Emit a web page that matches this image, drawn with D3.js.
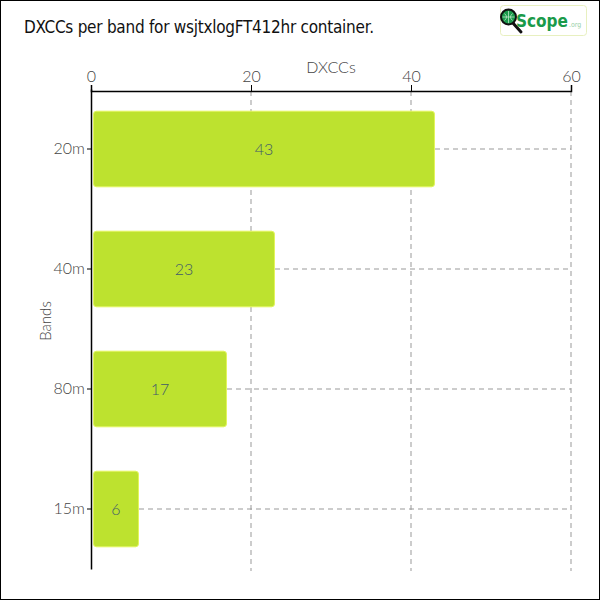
<!DOCTYPE html>
<html>
<head>
<meta charset="utf-8">
<script src="https://d3js.org/d3.v7.min.js"></script>
<style>
	body { margin: 0; background: #fff; }
	svg { display: block; font-family: Lato, "Open Sans", sans-serif; }
	.tick text { font-family: Lato, sans-serif; font-size: 16px; font-weight: 300; fill: #444; }
	.grid line { stroke: #999; stroke-dasharray: 5,4; }
</style>
</head>
<body>
<div id="chart"></div>
<script>
var bands = ["20m", "40m", "80m", "15m"];
var dxccs = [43, 23, 17, 6];
var xTicks = [0, 20, 40, 60];

var W = 600, H = 600;
var margin = { left: 91, top: 91, right: 29, bottom: 29 };
var w = W - margin.left - margin.right;
var h = H - margin.top - margin.bottom;

var svg = d3.select("#chart").append("svg")
	.attr("width", W)
	.attr("height", H);

svg.append("rect")
	.attr("x", 0.5).attr("y", 0.5)
	.attr("width", W - 1).attr("height", H - 1)
	.attr("fill", "#fff").attr("stroke", "#000");

// title
svg.append("text")
	.attr("x", 24).attr("y", 33)
	.attr("font-family", "'DejaVu Sans Condensed', sans-serif")
	.attr("font-size", 17)
	.attr("fill", "#111")
	.attr("textLength", 350)
	.text("DXCCs per band for wsjtxlogFT412hr container.");

// logo
var logo = svg.append("g").attr("transform", "translate(500,5)");
logo.append("rect")
	.attr("x", 0.5).attr("y", 0.5).attr("width", 86).attr("height", 30).attr("rx", 3)
	.attr("fill", "#fff").attr("stroke", "#e8f0c0");
logo.append("line")
	.attr("x1", 12).attr("y1", 17).attr("x2", 21).attr("y2", 27)
	.attr("stroke", "#111").attr("stroke-width", 3).attr("stroke-linecap", "round");
logo.append("circle")
	.attr("cx", 8.5).attr("cy", 12).attr("r", 7.5)
	.attr("fill", "#1a9a4a").attr("stroke", "#111").attr("stroke-width", 2);
logo.append("path")
	.attr("d", "M2.5,12H14.5M8.5,6V18M4.5,8.5Q8.5,12 4.5,15.5M12.5,8.5Q8.5,12 12.5,15.5")
	.attr("stroke", "#bfe6c8").attr("stroke-width", 0.8).attr("fill", "none");
var lt = logo.append("text")
	.attr("x", 16).attr("y", 22)
	.attr("font-family", "'DejaVu Sans Condensed', sans-serif");
lt.append("tspan")
	.attr("font-size", 17).attr("font-weight", "bold")
	.attr("fill", "#1a9a4a")
	.text("Scope");
lt.append("tspan")
	.attr("dx", 1)
	.attr("font-size", 7)
	.attr("fill", "#9ad0a8")
	.text(".org");

var g = svg.append("g").attr("transform", "translate(" + margin.left + "," + margin.top + ")");

var x = d3.scaleLinear().domain([0, 60]).range([0, w]);
var y = d3.scaleBand().domain(bands).range([-2, h - 2]).paddingInner(0.37).paddingOuter(0.185);

// grid lines
var grid = g.append("g").attr("class", "grid");
grid.selectAll(".vg")
	.data(xTicks.slice(1))
	.enter().append("line")
	.attr("x1", d => x(d)).attr("x2", d => x(d))
	.attr("y1", 0).attr("y2", h);
grid.selectAll(".hg")
	.data(bands)
	.enter().append("line")
	.attr("x1", (d, i) => x(dxccs[i]))
	.attr("x2", w)
	.attr("y1", d => y(d) + y.bandwidth() / 2)
	.attr("y2", d => y(d) + y.bandwidth() / 2);

// bars
g.selectAll(".bar")
	.data(bands)
	.enter().append("rect")
	.attr("class", "bar")
	.attr("x", 2.5)
	.attr("y", d => y(d))
	.attr("width", (d, i) => x(dxccs[i]) - 3)
	.attr("height", y.bandwidth())
	.attr("rx", 3)
	.attr("fill", "#bde22f")
	.attr("stroke", "#e2f55c")
	.attr("stroke-width", 1);

g.selectAll(".val")
	.data(bands)
	.enter().append("text")
	.attr("x", (d, i) => x(dxccs[i]) / 2 + 1)
	.attr("y", d => y(d) + y.bandwidth() / 2)
	.attr("dy", "0.35em")
	.attr("text-anchor", "middle")
	.attr("font-size", 16)
	.attr("font-weight", 300)
	.attr("fill", "#3f5a6a")
	.text((d, i) => dxccs[i]);

// axes
var xa = g.append("g")
	.call(d3.axisTop(x).tickValues(xTicks).tickSize(6).tickSizeOuter(6).tickPadding(3));
xa.select(".domain").attr("stroke", "#000").attr("stroke-width", 1.5);

var ya = g.append("g")
	.call(d3.axisLeft(y).tickSize(4).tickSizeOuter(0).tickPadding(2));
ya.select(".domain").attr("stroke", "#000").attr("stroke-width", 1.5);

g.append("text")
	.attr("x", w / 2).attr("y", -18)
	.attr("text-anchor", "middle")
	.attr("font-size", 16).attr("font-weight", 300).attr("fill", "#444")
	.text("DXCCs");

g.append("text")
	.attr("transform", "rotate(-90)")
	.attr("x", -h / 2 + 10).attr("y", -40)
	.attr("text-anchor", "middle")
	.attr("font-size", 15).attr("font-weight", 300).attr("fill", "#444")
	.text("Bands");
</script>
</body>
</html>
